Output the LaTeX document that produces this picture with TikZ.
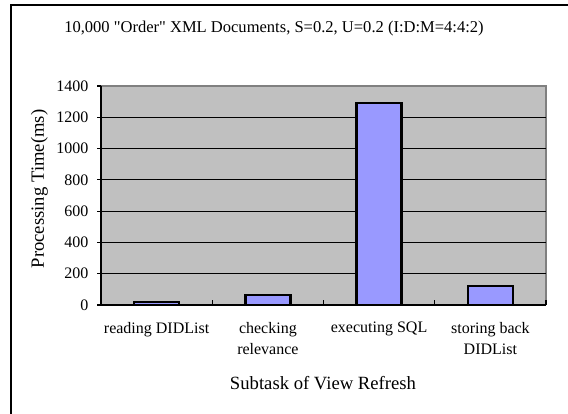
\documentclass[tikz,border=0pt]{standalone}
\usepackage{fontspec}
\setmainfont{Liberation Serif}

\definecolor{areagray}{HTML}{C0C0C0}
\definecolor{bordergray}{HTML}{808080}
\definecolor{barblue}{HTML}{9999FF}

\tikzset{
    bar/.style={draw=black, line width=1.7pt, fill=barblue},
    gridline/.style={black, line width=0.8pt},
    ticklabel/.style={font=\fontsize{12}{14}\selectfont},
    catlabel/.style={font=\fontsize{12}{15.6}\selectfont, align=center, anchor=north},
    axistitle/.style={font=\fontsize{14}{16}\selectfont}
}

\begin{document}
\begin{tikzpicture}[x=0.75pt, y=-0.75pt]
    \useasboundingbox (0,0) rectangle (568,414);

% chart frame
    \begin{scope}
        \clip (0,0) rectangle (568,414);
        \draw[line width=1.5pt] (11,5) rectangle (600,440);
    \end{scope}

% title
    \node[font=\fontsize{12.4}{14}\selectfont] (title) at (274,29)
        {10,000 \textquotedbl Order\textquotedbl{} XML Documents, S=0.2, U=0.2 (I:D:M=4:4:2)};

% plot area
    \fill[areagray] (101,86) rectangle (546,305);
    \draw[bordergray, line width=1.5pt] (101,86) -- (546,86) -- (546,305);

    \begin{scope}[shift={(101,305)}, y=0.11732pt]
    % grid lines
        \draw[gridline] (0,200) -- (445,200)
                        (0,400) -- (445,400)
                        (0,600) -- (445,600)
                        (0,800) -- (445,800)
                        (0,1000) -- (445,1000)
                        (0,1200) -- (445,1200);

    % vertical axis
        \draw[line width=1pt] (0,1400) -- (0,0);
        \draw[line width=0.8pt] (-4,0) -- (0,0)   (-4,200) -- (0,200)
            (-4,400) -- (0,400)   (-4,600) -- (0,600)   (-4,800) -- (0,800)
            (-4,1000) -- (0,1000) (-4,1200) -- (0,1200) (-4,1400) -- (0,1400);
    % labels
        \draw   (-8,0) node[ticklabel, anchor=east] (y0) {0}
                (-8,200) node[ticklabel, anchor=east] (y200) {200}
                (-8,400) node[ticklabel, anchor=east] (y400) {400}
                (-8,600) node[ticklabel, anchor=east] (y600) {600}
                (-8,800) node[ticklabel, anchor=east] (y800) {800}
                (-8,1000) node[ticklabel, anchor=east] (y1000) {1000}
                (-8,1200) node[ticklabel, anchor=east] (y1200) {1200}
                (-8,1400) node[ticklabel, anchor=east] (y1400) {1400};

    % bars
        \draw[bar] (33.1,0) rectangle (78.1,20);
        \draw[bar] (144.4,0) rectangle (189.4,62);
        \draw[bar] (255.6,0) rectangle (300.6,1293);
        \draw[bar] (366.9,0) rectangle (411.9,123);

    % horizontal axis
        \draw[line width=1pt] (0,0) -- (445,0);
        \draw[line width=0.8pt] (111.25,0) -- (111.25,30)
            (222.5,0) -- (222.5,30) (333.75,0) -- (333.75,30) (445,0) -- (445,30);
    % labels
        \draw   (55.6,0) node[catlabel, yshift=-9.5pt] (c1) {reading DIDList}
                (166.9,0) node[catlabel, yshift=-9.5pt] (c2) {checking\\relevance}
                (278.1,0) node[catlabel, yshift=-9.5pt] (c3) {executing SQL}
                (389.4,0) node[catlabel, yshift=-9.5pt] (c4) {storing back\\DIDList};
    \end{scope}

% axis titles
    \node[axistitle, rotate=90] (ytitle) at (39.5,189) {Processing Time(ms)};
    \node[axistitle] (xtitle) at (323,383) {Subtask of View Refresh};
\end{tikzpicture}
\end{document}
